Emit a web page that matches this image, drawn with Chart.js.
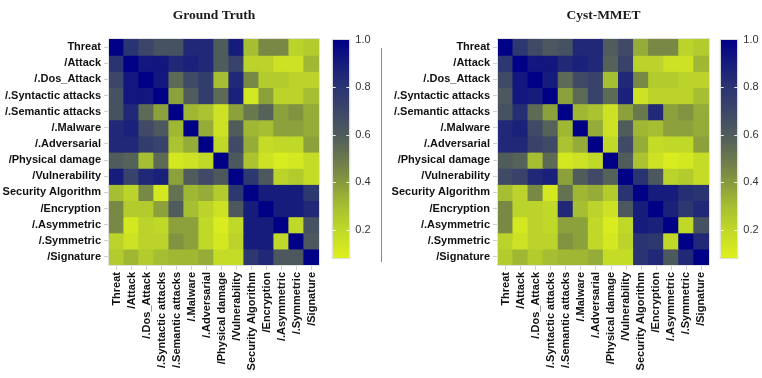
<!DOCTYPE html>
<html>
<head>
<meta charset="utf-8">
<script src="https://cdn.jsdelivr.net/npm/chart.js@4.4.1/dist/chart.umd.min.js"></script>
<style>
  html, body { margin: 0; padding: 0; background: #fff; }
  body { width: 762px; height: 378px; position: relative; overflow: hidden; }
  .box { position: absolute; top: 0; height: 378px; }
  .sep { position: absolute; left: 381px; top: 48px; width: 1px; height: 214px; background: #8a8a8a; }
</style>
</head>
<body>
<div class="box" style="left:0;width:322px"><canvas id="gt"></canvas></div>
<div class="box" style="left:325px;width:60px"><canvas id="gtBar"></canvas></div>
<div class="sep"></div>
<div class="box" style="left:389px;width:323px"><canvas id="cm"></canvas></div>
<div class="box" style="left:712px;width:50px"><canvas id="cmBar"></canvas></div>
<script>
// Concept labels (rows and columns share the same order)
const concepts = [
  'Threat', '/Attack', '/.Dos_Attack', '/.Syntactic attacks', '/.Semantic attacks',
  '/.Malware', '/.Adversarial', '/Physical damage', '/Vulnerability',
  'Security Algorithm', '/Encryption', '/.Asymmetric', '/.Symmetric', '/Signature'
];

// Similarity matrix: Ground Truth
const groundTruth = [
  [1.00,0.80,0.70,0.65,0.65,0.85,0.85,0.60,0.90,0.30,0.45,0.45,0.22,0.25],
  [0.80,1.00,0.92,0.92,0.85,0.88,0.85,0.60,0.72,0.22,0.22,0.15,0.15,0.32],
  [0.70,0.92,1.00,0.92,0.55,0.68,0.75,0.30,0.85,0.45,0.25,0.25,0.22,0.22],
  [0.65,0.92,0.92,1.00,0.38,0.60,0.75,0.55,0.88,0.12,0.38,0.22,0.22,0.30],
  [0.65,0.85,0.55,0.38,1.00,0.32,0.28,0.15,0.38,0.50,0.58,0.38,0.42,0.35],
  [0.85,0.88,0.68,0.62,0.32,1.00,0.35,0.15,0.60,0.32,0.30,0.38,0.38,0.35],
  [0.85,0.85,0.75,0.72,0.28,0.35,1.00,0.20,0.68,0.35,0.18,0.20,0.20,0.38],
  [0.60,0.58,0.30,0.55,0.12,0.15,0.20,1.00,0.62,0.28,0.15,0.10,0.12,0.18],
  [0.90,0.72,0.85,0.88,0.38,0.60,0.68,0.62,1.00,0.78,0.62,0.22,0.25,0.18],
  [0.30,0.22,0.45,0.12,0.52,0.32,0.35,0.25,0.78,1.00,0.90,0.90,0.90,0.78],
  [0.45,0.25,0.25,0.38,0.60,0.30,0.22,0.15,0.62,0.90,1.00,0.90,0.90,0.85],
  [0.45,0.12,0.22,0.20,0.38,0.38,0.20,0.10,0.20,0.90,0.90,1.00,0.20,0.65],
  [0.22,0.15,0.22,0.22,0.42,0.38,0.20,0.12,0.22,0.90,0.90,0.20,1.00,0.62],
  [0.25,0.32,0.25,0.30,0.32,0.32,0.35,0.18,0.18,0.78,0.85,0.62,0.62,1.00]
];

// Similarity matrix: Cyst-MMET
const cystMmet = [
  [1.00,0.78,0.68,0.62,0.65,0.85,0.85,0.60,0.68,0.35,0.45,0.45,0.22,0.25],
  [0.78,1.00,0.92,0.92,0.85,0.88,0.85,0.58,0.72,0.22,0.22,0.15,0.15,0.32],
  [0.68,0.92,1.00,0.90,0.55,0.68,0.72,0.30,0.85,0.45,0.25,0.25,0.22,0.22],
  [0.62,0.92,0.90,1.00,0.38,0.55,0.72,0.55,0.88,0.15,0.22,0.22,0.22,0.30],
  [0.65,0.82,0.55,0.38,1.00,0.32,0.28,0.15,0.38,0.50,0.85,0.38,0.42,0.35],
  [0.85,0.88,0.68,0.58,0.32,1.00,0.35,0.15,0.60,0.32,0.30,0.38,0.38,0.35],
  [0.85,0.85,0.72,0.68,0.28,0.35,1.00,0.20,0.68,0.35,0.18,0.20,0.20,0.38],
  [0.60,0.58,0.30,0.55,0.12,0.15,0.20,1.00,0.60,0.28,0.15,0.10,0.12,0.18],
  [0.68,0.72,0.85,0.88,0.38,0.60,0.68,0.58,1.00,0.80,0.62,0.22,0.25,0.18],
  [0.30,0.22,0.45,0.12,0.52,0.32,0.35,0.25,0.80,1.00,0.90,0.90,0.82,0.80],
  [0.45,0.22,0.22,0.20,0.85,0.30,0.22,0.15,0.62,0.90,1.00,0.88,0.78,0.85],
  [0.45,0.12,0.22,0.20,0.38,0.38,0.20,0.10,0.20,0.90,0.88,1.00,0.20,0.65],
  [0.22,0.15,0.22,0.22,0.42,0.38,0.20,0.12,0.22,0.80,0.78,0.20,1.00,0.85],
  [0.25,0.32,0.25,0.30,0.32,0.32,0.35,0.18,0.18,0.80,0.85,0.62,0.85,1.00]
];

// Colour scale range and colour-bar tick values
const scaleMin = 0.08;
const scaleMax = 1.0;
const colorbarTicks = [0.2, 0.4, 0.6, 0.8, 1.0];

// Yellow -> olive -> slate -> navy colour map
const colorStops = [
  [0.08, [222, 240, 30]],
  [0.20, [192, 216, 40]],
  [0.30, [166, 190, 50]],
  [0.40, [134, 154, 62]],
  [0.50, [106, 120, 78]],
  [0.60, [80, 92, 92]],
  [0.70, [60, 70, 104]],
  [0.80, [42, 52, 114]],
  [0.90, [22, 28, 124]],
  [1.00, [0, 0, 135]]
];

function colorFor(v) {
  if (v <= colorStops[0][0]) return rgb(colorStops[0][1]);
  for (let i = 1; i < colorStops.length; i++) {
    const [v1, c1] = colorStops[i];
    if (v <= v1) {
      const [v0, c0] = colorStops[i - 1];
      const t = (v - v0) / (v1 - v0);
      return rgb(c0.map((c, k) => c + (c1[k] - c) * t));
    }
  }
  return rgb(colorStops[colorStops.length - 1][1]);
}
function rgb(c) { return `rgb(${c.map(Math.round).join(',')})`; }

const labelFont = { family: "'Liberation Sans', Arial, sans-serif", size: 11, weight: 'bold' };

// Light frame round the plot area
const framePlugin = {
  id: 'frame',
  afterDraw(chart, args, opts) {
    const { ctx, chartArea: a } = chart;
    ctx.save();
    ctx.strokeStyle = opts.color || '#e4e4e4';
    ctx.lineWidth = 1;
    ctx.strokeRect(a.left - 0.5, a.top - 0.5, a.right - a.left + 1, a.bottom - a.top + 1);
    ctx.restore();
  }
};

function makeHeatmap(id, title, matrix) {
  const datasets = matrix.map((row, r) => ({
    label: concepts[r],
    data: row.map(() => [r, r + 1]),
    backgroundColor: row.map(v => colorFor(v)),
    borderWidth: 0,
    grouped: false,
    barPercentage: 1,
    categoryPercentage: 1,
    inflateAmount: 0.6
  }));
  new Chart(document.getElementById(id), {
    type: 'bar',
    data: { labels: concepts, datasets },
    options: {
      responsive: true,
      maintainAspectRatio: false,
      animation: false,
      layout: { padding: { left: 0, right: 3, top: 0, bottom: 0 } },
      plugins: {
        legend: { display: false },
        tooltip: { enabled: false },
        title: {
          display: true,
          text: title,
          fullSize: false,
          color: '#1a1a1a',
          font: { family: "'Liberation Serif', 'Times New Roman', serif", size: 13.5, weight: 'bold' },
          padding: { top: 7, bottom: 15.8 }
        },
        frame: { color: '#e2e2e2' }
      },
      scales: {
        x: {
          type: 'category',
          ticks: { minRotation: 90, maxRotation: 90, autoSkip: false, font: labelFont, color: '#111', padding: 2 },
          grid: { drawOnChartArea: false, offset: false, tickLength: 5, color: '#cfcfcf' },
          border: { display: false },
          afterFit(s) { s.height = 113; s.paddingLeft = 0; s.paddingRight = 0; }
        },
        y: {
          type: 'linear',
          min: 0,
          max: concepts.length,
          reverse: true,
          afterBuildTicks(s) { s.ticks = concepts.map((_, i) => ({ value: i + 0.5 })); },
          ticks: { autoSkip: false, font: labelFont, color: '#111', padding: 3, callback: v => concepts[Math.floor(v)] },
          grid: { drawOnChartArea: false, tickLength: 5, color: '#cfcfcf' },
          border: { display: false },
          afterFit(s) { s.width = 109; s.paddingTop = 0; s.paddingBottom = 0; }
        }
      }
    },
    plugins: [framePlugin]
  });
}

// White notches on both edges of the colour bar at each tick
const notchPlugin = {
  id: 'notches',
  afterDatasetsDraw(chart) {
    const { ctx, chartArea: a, scales: { y } } = chart;
    ctx.save();
    ctx.strokeStyle = 'rgba(255,255,255,0.9)';
    ctx.lineWidth = 1.2;
    colorbarTicks.slice(0, -1).forEach(t => {
      const py = Math.round(y.getPixelForValue(t)) + 0.5;
      ctx.beginPath();
      ctx.moveTo(a.left, py); ctx.lineTo(a.left + 3, py);
      ctx.moveTo(a.right - 3, py); ctx.lineTo(a.right, py);
      ctx.stroke();
    });
    ctx.restore();
  }
};

function makeColorbar(id, padLeft, axisWidth) {
  new Chart(document.getElementById(id), {
    type: 'bar',
    data: {
      labels: [''],
      datasets: [{
        data: [[scaleMin, scaleMax]],
        borderWidth: 0,
        barPercentage: 1,
        categoryPercentage: 1,
        backgroundColor(ctx) {
          const chart = ctx.chart;
          if (!chart.chartArea) return colorFor(0.5);
          const y = chart.scales.y;
          const y0 = y.getPixelForValue(scaleMin), y1 = y.getPixelForValue(scaleMax);
          const g = chart.ctx.createLinearGradient(0, y0, 0, y1);
          colorStops.forEach(([v, c]) => g.addColorStop(Math.max(0, (v - scaleMin) / (scaleMax - scaleMin)), rgb(c)));
          return g;
        }
      }]
    },
    options: {
      responsive: true,
      maintainAspectRatio: false,
      animation: false,
      layout: { padding: { left: padLeft, right: 0, top: 40, bottom: 120 } },
      plugins: { legend: { display: false }, tooltip: { enabled: false }, frame: { color: '#dcdcdc' } },
      scales: {
        x: { display: false },
        y: {
          position: 'right',
          min: scaleMin,
          max: scaleMax,
          afterBuildTicks(s) { s.ticks = colorbarTicks.map(v => ({ value: v })); },
          ticks: { color: '#333', font: { family: "'Liberation Sans', Arial, sans-serif", size: 11 }, padding: 6, callback: v => v.toFixed(1) },
          grid: { display: false, drawTicks: false },
          border: { display: false },
          afterFit(s) { s.width = axisWidth; s.paddingTop = 0; s.paddingBottom = 0; }
        }
      }
    },
    plugins: [notchPlugin, framePlugin]
  });
}

makeHeatmap('gt', 'Ground Truth', groundTruth);
makeHeatmap('cm', 'Cyst-MMET', cystMmet);
makeColorbar('gtBar', 7.7, 35.7);
makeColorbar('cmBar', 8.7, 24.7);
</script>
</body>
</html>
